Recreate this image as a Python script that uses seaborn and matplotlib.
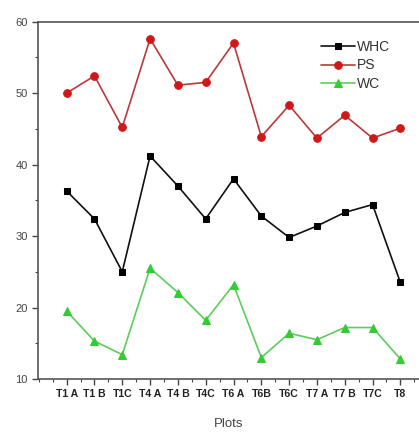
import matplotlib
matplotlib.use("Agg")
import matplotlib.pyplot as plt
import seaborn as sns
import pandas as pd
from matplotlib.ticker import MultipleLocator

plots = ["T1 A", "T1 B", "T1C", "T4 A", "T4 B", "T4C", "T6 A", "T6B", "T6C",
         "T7 A", "T7 B", "T7C", "T8"]
whc = [36.3, 32.4, 25.0, 41.2, 37.0, 32.4, 38.0, 32.8, 29.8, 31.4, 33.3, 34.4, 23.5]
ps = [50.0, 52.4, 45.2, 57.6, 51.1, 51.5, 57.0, 43.9, 48.3, 43.7, 46.9, 43.7, 45.1]
wc = [19.5, 15.3, 13.4, 25.5, 22.1, 18.2, 23.2, 13.0, 16.4, 15.5, 17.2, 17.2, 12.8]

sns.set_style("ticks")
plt.rcParams['font.family'] = ['Liberation Sans', 'DejaVu Sans']

pos = list(range(len(plots)))
df = pd.DataFrame({"pos": pos, "WHC": whc, "PS": ps, "WC": wc})

fig = plt.figure(figsize=(4.19, 4.32), dpi=100)
ax = fig.add_axes([0.0907, 0.1227, 0.9093, 0.8273])

styles = [
    ("WHC", "#111111", "#000000", "s", 4.5),
    ("PS", "#b83a3a", "#d01818", "o", 5.5),
    ("WC", "#5ccc5c", "#33cc33", "^", 6),
]
for name, lc, mc, mk, ms in styles:
    sns.lineplot(data=df, x="pos", y=name, ax=ax, color=lc, linewidth=1.2,
                 marker=mk, markersize=ms, markerfacecolor=mc,
                 markeredgecolor=mc, label=name)

ax.set_xlim(-1.03, 12.67)
ax.set_ylim(10, 60)
ax.set_xticks(pos)
ax.set_xticklabels(plots, fontsize=7.6, fontweight='bold', color='#333333')
ax.xaxis.set_minor_locator(MultipleLocator(0.5))
ax.yaxis.set_major_locator(MultipleLocator(10))
ax.yaxis.set_minor_locator(MultipleLocator(5))
ax.tick_params(axis='y', labelsize=8, colors='#444444', length=4, width=1)
ax.tick_params(axis='x', length=4, width=1, colors='#444444', pad=3)
ax.tick_params(which='minor', length=2.5, width=0.8, colors='#444444')
for lab in ax.get_xticklabels():
    lab.set_color('#222222')

ax.set_xlabel("Plots", fontsize=9.5, color='#444444', labelpad=14)
ax.set_ylabel("")

for s in ["left", "bottom", "top"]:
    ax.spines[s].set_color('#555555')
    ax.spines[s].set_linewidth(1.2)
ax.spines["right"].set_visible(False)

leg = ax.legend(loc='upper right', bbox_to_anchor=(396 / 419, 1 - 34 / 432),
                bbox_transform=fig.transFigure, borderaxespad=0, frameon=False,
                fontsize=10, handlelength=2.4, handletextpad=0.2, labelspacing=0.35)
for t in leg.get_texts():
    t.set_color('#333333')

fig.savefig("out.png", dpi=100)
